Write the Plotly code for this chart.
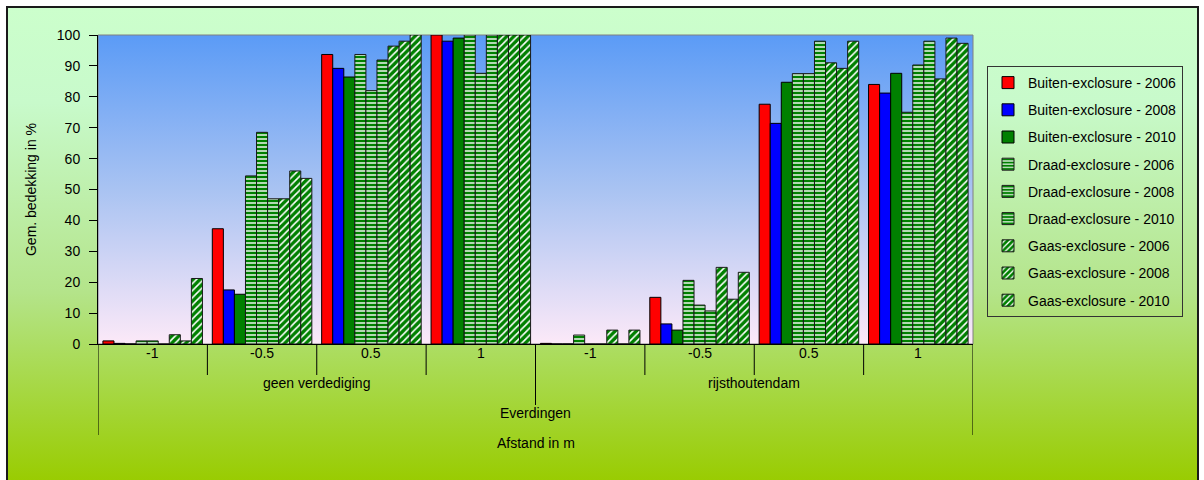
import base64
import plotly.graph_objects as go

# ---- data ----
afstand = ["-1", "-0.5", "0.5", "1"]
behandeling = ["geen verdediging", "rijsthoutendam"]
locatie = "Everdingen"
categories = [f"{b} {a}" for b in behandeling for a in afstand]

series_names = [
    "Buiten-exclosure - 2006", "Buiten-exclosure - 2008", "Buiten-exclosure - 2010",
    "Draad-exclosure - 2006", "Draad-exclosure - 2008", "Draad-exclosure - 2010",
    "Gaas-exclosure - 2006", "Gaas-exclosure - 2008", "Gaas-exclosure - 2010",
]
buiten_2006 = [1.0, 37.3, 93.7, 100, 0.2, 15.1, 77.6, 84.0]
buiten_2008 = [0.2, 17.5, 89.2, 98.0, 0.0, 6.5, 71.4, 81.2]
buiten_2010 = [0.0, 16.1, 86.4, 99.0, 0.0, 4.5, 84.7, 87.6]
draad_2006 = [1.0, 54.4, 93.7, 100, 2.9, 20.6, 87.5, 75.0]
draad_2008 = [1.0, 68.5, 82.0, 87.6, 0.0, 12.6, 87.5, 90.3]
draad_2010 = [0.0, 47.0, 91.9, 100, 0.0, 10.7, 98.0, 98.0]
gaas_2006 = [3.0, 47.0, 96.4, 100, 4.5, 24.8, 91.0, 85.8]
gaas_2008 = [1.0, 56.0, 98.0, 100, 0.0, 14.5, 89.2, 99.0]
gaas_2010 = [21.2, 53.6, 100, 100, 4.5, 23.2, 98.0, 97.3]
series_values = [buiten_2006, buiten_2008, buiten_2010,
                 draad_2006, draad_2008, draad_2010,
                 gaas_2006, gaas_2008, gaas_2010]
y_ticks = list(range(0, 101, 10))

# ---- geometry (pixels) ----
W, H = 1204, 480
L, R, T, B = 98, 973, 35, 344
pw, ph = R - L, B - T


def px_x(x):
    return (x - L) / pw


def px_y(y):
    return (B - y) / ph


FONT = "Liberation Sans, Arial, sans-serif"
GREEN = "#008000"

fig = go.Figure()
for i, (name, vals) in enumerate(zip(series_names, series_values)):
    if i < 3:
        marker = dict(color=["#ff0000", "#0000ff", GREEN][i],
                      line=dict(color="black", width=1))
    elif i < 6:
        marker = dict(color="white", line=dict(color="#1a1a1a", width=1),
                      pattern=dict(shape="-", fgcolor=GREEN, bgcolor="white",
                                   size=4, solidity=0.65, fgopacity=1))
    else:
        marker = dict(color="white", line=dict(color="#1a1a1a", width=1),
                      pattern=dict(shape="/", fgcolor=GREEN, bgcolor="white",
                                   size=5, solidity=0.68, fgopacity=1))
    fig.add_trace(go.Bar(x=categories, y=vals, name=name, marker=marker,
                         legendgroup=f"g{i}"))


def svg_grad(stops):
    st = "".join(f"<stop offset='{o}' stop-color='{c}'/>" for o, c in stops)
    svg = ("<svg xmlns='http://www.w3.org/2000/svg' width='100' height='100' "
           "preserveAspectRatio='none'><defs><linearGradient id='g' x1='0' y1='0' "
           f"x2='0' y2='1'>{st}</linearGradient></defs>"
           "<rect width='100' height='100' fill='url(#g)'/></svg>")
    return "data:image/svg+xml;base64," + base64.b64encode(svg.encode()).decode()


bx0, bx1, by0, by1 = 7, 1198, 7, 482
images = [
    dict(source=svg_grad([(0, "#ccffcc"), (0.2, "#c8facb"), (0.6, "#b4e48a"), (1, "#99cc00")]),
         xref="paper", yref="paper", x=px_x(bx0), y=px_y(by0),
         sizex=(bx1 - bx0) / pw, sizey=(by1 - by0) / ph,
         xanchor="left", yanchor="top", sizing="stretch", layer="below"),
    dict(source=svg_grad([(0, "#5b9bf6"), (0.5, "#a9c3f2"), (1, "#fce9f8")]),
         xref="paper", yref="paper", x=0, y=1, sizex=1, sizey=1,
         xanchor="left", yanchor="top", sizing="stretch", layer="below"),
]

shapes = [
    dict(type="rect", xref="paper", yref="paper", x0=px_x(bx0), x1=px_x(bx1),
         y0=px_y(by1), y1=px_y(by0), line=dict(color="#1a1a1a", width=2), layer="below"),
    dict(type="rect", xref="paper", yref="paper", x0=0, x1=1, y0=0, y1=1,
         line=dict(color="#808080", width=1), layer="below"),
]
n = len(categories)
for k in range(n + 1):
    xb = k - 0.5
    if k in (0, n):
        yend = 435
    elif k == n // 2:
        yend = 405
    else:
        yend = 375
    shapes.append(dict(type="line", xref="x", yref="paper", x0=xb, x1=xb,
                       y0=0, y1=px_y(yend), line=dict(color="black", width=1)))

annotations = []
for k, c in enumerate(categories):
    annotations.append(dict(x=k, y=px_y(363), xref="x", yref="paper",
                            text=afstand[k % len(afstand)], showarrow=False,
                            font=dict(size=14, color="black", family=FONT)))
for j, b in enumerate(behandeling):
    annotations.append(dict(x=j * 4 + 1.5, y=px_y(393), xref="x", yref="paper",
                            text=b, showarrow=False,
                            font=dict(size=14, color="black", family=FONT)))
annotations.append(dict(x=(n - 1) / 2, y=px_y(423), xref="x", yref="paper",
                        text=locatie, showarrow=False,
                        font=dict(size=14, color="black", family=FONT)))
annotations.append(dict(x=(n - 1) / 2, y=px_y(453), xref="x", yref="paper",
                        text="Afstand in m", showarrow=False,
                        font=dict(size=14, color="black", family=FONT)))

fig.update_layout(
    width=W, height=H,
    margin=dict(l=L, r=W - R, t=T, b=H - B, pad=0),
    paper_bgcolor="white", plot_bgcolor="rgba(0,0,0,0)",
    barmode="group", bargap=0.09, bargroupgap=0,
    font=dict(family=FONT, size=14, color="black"),
    images=images, shapes=shapes, annotations=annotations,
    showlegend=True,
    legend=dict(x=px_x(987), y=px_y(66), xanchor="left", yanchor="top",
                bgcolor="rgba(0,0,0,0)", bordercolor="#333333", borderwidth=1,
                font=dict(size=14, family=FONT, color="black"),
                traceorder="grouped", tracegroupgap=6),
    xaxis=dict(type="category", range=[-0.5, n - 0.5], showticklabels=False,
               ticks="", showgrid=False, showline=True, linecolor="black",
               linewidth=1, zeroline=False, fixedrange=True),
    yaxis=dict(range=[0, 100], tickvals=y_ticks, ticks="outside", ticklen=8,
               tickcolor="black", showgrid=False, showline=True, linecolor="black",
               linewidth=1, zeroline=False, ticklabelstandoff=6,
               tickfont=dict(size=14, family=FONT, color="black"),
               title=dict(text="Gem. bedekking in %", standoff=16,
                          font=dict(size=14, family=FONT, color="black"))),
)

fig.write_html("out.html", config={"displayModeBar": False},
               post_script="document.body.style.margin='0';"
                           "document.body.style.overflow='hidden';")
